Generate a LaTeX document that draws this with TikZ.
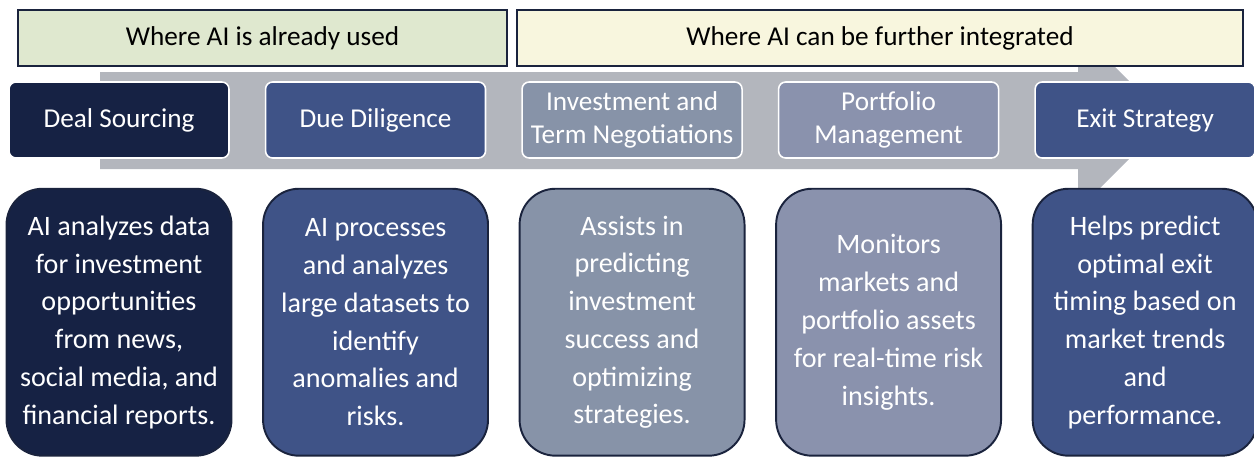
\documentclass[tikz,border=0pt]{standalone}
\usepackage{fontspec}
\setmainfont{Carlito}
\usepackage{tikz}
\usetikzlibrary{positioning}

\definecolor{navy}{HTML}{162244}
\definecolor{midblue}{HTML}{3F5387}
\definecolor{slateblue}{HTML}{8793A8}
\definecolor{lavgray}{HTML}{8A92AD}
\definecolor{arrowgray}{HTML}{B3B6BD}
\definecolor{edge}{HTML}{1A233D}
\definecolor{hdrgreen}{HTML}{DFE8CF}
\definecolor{hdryellow}{HTML}{F8F6DE}

\begin{document}
\begin{tikzpicture}[
  x=0.02cm,y=-0.02cm,
  hdr/.style={draw=edge,line width=1.1pt,minimum height=1.12cm,inner sep=2pt,
              font=\fontsize{15.5}{18}\selectfont},
  stage/.style={draw=white,line width=0.9pt,rounded corners=4pt,inner sep=2pt,
                minimum width=4.4cm,minimum height=1.52cm,align=center,text=white,
                font=\fontsize{15.5}{18.7}\selectfont},
  descr/.style={draw=edge,line width=1.1pt,rounded corners=0.72cm,inner sep=2pt,
                minimum width=4.5cm,minimum height=5.34cm,align=center,text=white,
                font=\fontsize{16}{21.5}\selectfont},
]
  \useasboundingbox (0,0) rectangle (1254,457);

  % process arrow behind the stages
  \fill[arrowgray] (100,72) -- (1078,72) -- (1078,30) -- (1168,120)
    -- (1078,210) -- (1078,169) -- (100,169) -- cycle;

  \node[hdr,fill=hdrgreen,minimum width=9.78cm] (used) at (262.5,38)
    {Where AI is already used};
  \node[hdr,fill=hdryellow,minimum width=14.52cm] (further) at (880,38)
    {Where AI can be further integrated};

  \node[stage,fill=navy] (deal) at (119,120) {Deal Sourcing};
  \node[stage,fill=midblue,right=0.7cm of deal] (dd) {Due Diligence};
  \node[stage,fill=slateblue,right=0.7cm of dd] (inv) {Investment and\\Term Negotiations};
  \node[stage,fill=lavgray,right=0.7cm of inv] (port) {Portfolio\\Management};
  \node[stage,fill=midblue,right=0.7cm of port] (exit) {Exit Strategy};

  \node[descr,fill=navy,below=0.58cm of deal] (dealtxt)
    {AI analyzes data\\for investment\\opportunities\\from news,\\social media, and\\financial reports.};
  \node[descr,fill=midblue,below=0.58cm of dd] (ddtxt)
    {AI processes\\and analyzes\\large datasets to\\identify\\anomalies and\\risks.};
  \node[descr,fill=slateblue,below=0.58cm of inv] (invtxt)
    {Assists in\\predicting\\investment\\success and\\optimizing\\strategies.};
  \node[descr,fill=lavgray,below=0.58cm of port] (porttxt)
    {Monitors\\markets and\\portfolio assets\\for real-time risk\\insights.};
  \node[descr,fill=midblue,below=0.58cm of exit] (exittxt)
    {Helps predict\\optimal exit\\timing based on\\market trends\\and\\performance.};
\end{tikzpicture}
\end{document}
